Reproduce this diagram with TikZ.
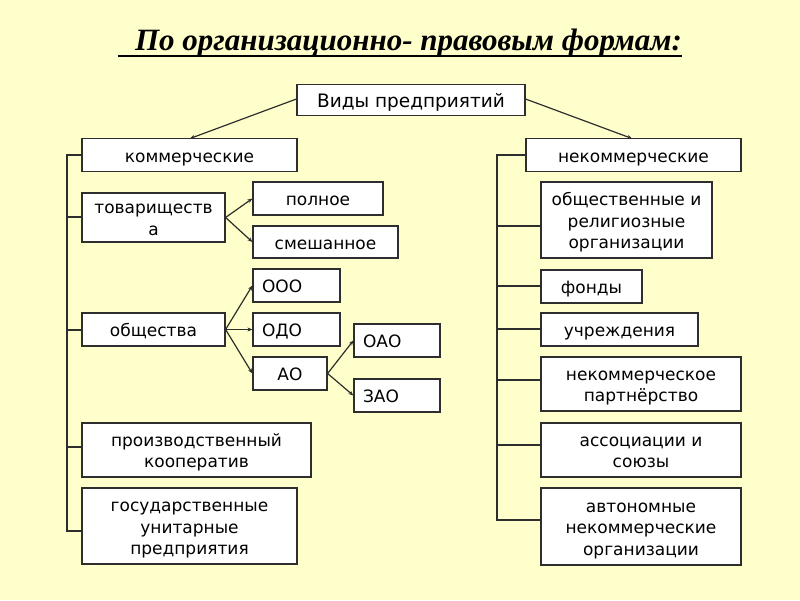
\documentclass[tikz,border=0pt]{standalone}
\usepackage{fontspec}
\setmainfont{DejaVu Sans}
\newfontfamily\titlefont{Liberation Serif}
\usetikzlibrary{arrows.meta,calc}
\definecolor{bgyellow}{HTML}{FFFFCC}
\definecolor{linegray}{HTML}{2E2E2E}
\newcommand\bt[1]{\raisebox{\dimexpr-0.25em-3pt\relax}[0pt][0pt]{\begin{tabular}{@{}c@{}}#1\end{tabular}}}
\newcommand\lt[2]{\bt{\makebox[#1][l]{#2}}}
\begin{document}
\begin{tikzpicture}[x=1pt,y=-1pt,
  box/.style={draw=linegray,line width=1.2pt,fill=white,rectangle,inner sep=2pt,
    font=\fontsize{17}{21.5}\selectfont},
  conn/.style={draw=linegray,line width=1.2pt},
  arr/.style={conn,-{Stealth[length=5pt,width=4pt]}}]
\fill[bgyellow] (0,0) rectangle (800,600);
\useasboundingbox (0,0) rectangle (800,600);
% title
\node[font=\titlefont\fontsize{31}{34}\selectfont\bfseries\itshape,inner sep=0pt] (title) at (408.5,43)
  {По организационно- правовым формам:};
\draw[line width=1.6pt] ($(title.base west)+(-17,5.5)$) -- ($(title.base east)+(0,5.5)$);
% nodes
\node[box,minimum width=228,minimum height=31,font=\fontsize{18.5}{22}\selectfont] (vid) at (411,100) {\bt{Виды предприятий}};
\node[box,minimum width=215,minimum height=33] (kom) at (189.5,155) {\bt{коммерческие}};
\node[box,minimum width=215,minimum height=33] (nekom) at (633.5,155) {\bt{некоммерческие}};
\node[box,minimum width=143,minimum height=49] (tov) at (153.5,217.5) {\bt{товариществ\\а}};
\node[box,minimum width=130,minimum height=33] (poln) at (318,198.5) {\bt{полное}};
\node[box,minimum width=145,minimum height=32] (smesh) at (325.5,242) {\bt{смешанное}};
\node[box,minimum width=143,minimum height=33] (obsh) at (153.5,329.5) {\bt{общества}};
\node[box,minimum width=87,minimum height=33] (ooo) at (296.5,285.5) {\lt{69pt}{ООО}};
\node[box,minimum width=87,minimum height=33] (odo) at (296.5,329.5) {\lt{69pt}{ОДО}};
\node[box,minimum width=74,minimum height=33] (ao) at (290,373.5) {\bt{АО}};
\node[box,minimum width=86,minimum height=33] (oao) at (397,340.5) {\lt{68pt}{ОАО}};
\node[box,minimum width=86,minimum height=33] (zao) at (397,395.5) {\lt{68pt}{ЗАО}};
\node[box,minimum width=229,minimum height=54] (proizv) at (196.5,450) {\bt{производственный\\кооператив}};
\node[box,minimum width=215,minimum height=76] (gos) at (189.5,526) {\bt{государственные\\унитарные\\предприятия}};
\node[box,minimum width=171,minimum height=76] (obrel) at (626.5,220) {\bt{общественные и\\религиозные\\организации}};
\node[box,minimum width=101,minimum height=33] (fond) at (591.5,286.5) {\bt{фонды}};
\node[box,minimum width=157,minimum height=33] (uchr) at (619.5,329.5) {\bt{учреждения}};
\node[box,minimum width=200,minimum height=54] (partn) at (641,384) {\bt{некоммерческое\\партнёрство}};
\node[box,minimum width=200,minimum height=54] (assoc) at (641,450) {\bt{ассоциации и\\союзы}};
\node[box,minimum width=200,minimum height=77] (avt) at (641,526.5) {\bt{автономные\\некоммерческие\\организации}};
% arrows from root
\draw[arr] (vid.west |- 0,99) -- (190,138.5) coordinate (komtop);
\draw[arr] (vid.east |- 0,99) -- (632,138.5) coordinate (nekomtop);
% товарищества
\draw[arr] (tov.east) -- (poln.west);
\draw[arr] (tov.east) -- (smesh.west);
% общества
\draw[arr] (obsh.east) -- (ooo.west);
\draw[arr] (obsh.east) -- (odo.west);
\draw[arr] (obsh.east) -- (ao.west);
\draw[arr] (ao.east) -- (oao.west);
\draw[arr] (ao.east) -- (zao.west);
% left tree
\draw[conn] (kom.west) -- (67,155) -- (67,531) -- (gos.west |- 0,531);
\draw[conn] (67,217) -- (tov.west |- 0,217);
\draw[conn] (67,330) -- (obsh.west |- 0,330);
\draw[conn] (67,447) -- (proizv.west |- 0,447);
% right tree
\draw[conn] (nekom.west) -- (497,155) -- (497,520) -- (avt.west |- 0,520);
\draw[conn] (497,226) -- (obrel.west |- 0,226);
\draw[conn] (497,286) -- (fond.west |- 0,286);
\draw[conn] (497,329) -- (uchr.west |- 0,329);
\draw[conn] (497,380) -- (partn.west |- 0,380);
\draw[conn] (497,445) -- (assoc.west |- 0,445);
\end{tikzpicture}
\end{document}
